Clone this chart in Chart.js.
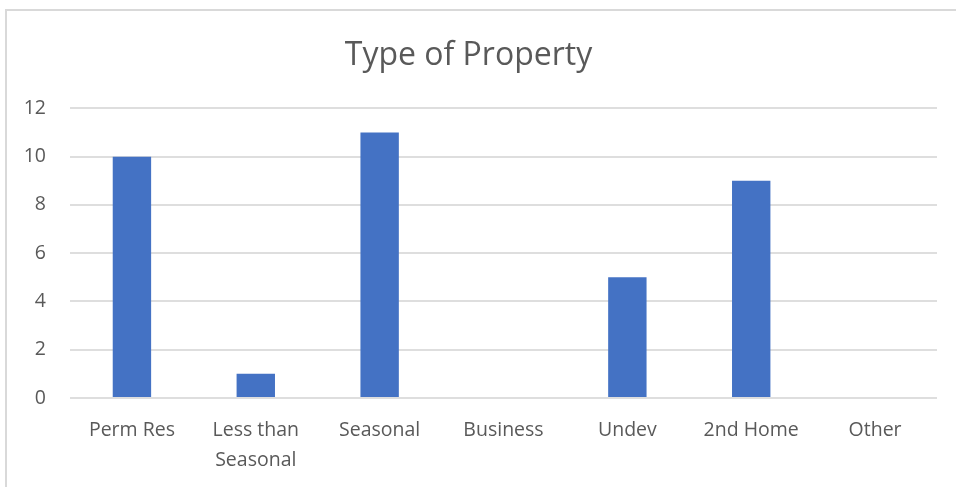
<!DOCTYPE html>
<html><head><meta charset="utf-8">
<script src="https://cdn.jsdelivr.net/npm/chart.js@4"></script>
<style>html,body{margin:0;padding:0;background:#fff;overflow:hidden}#wrap{width:956px;height:487px;position:relative}</style>
</head><body><div id="wrap"><canvas id="c" width="956" height="487"></canvas></div>
<script>
const categories = [["Perm Res"], ["Less than", "Seasonal"], ["Seasonal"], ["Business"], ["Undev"], ["2nd Home"], ["Other"]];
const counts = [10, 1, 11, 0, 5, 9, 0];
const yTicks = [0, 2, 4, 6, 8, 10, 12];
const titleText = "Type of Property";

const frame = {
  id: 'frame',
  beforeDraw(chart) {
    const ctx = chart.ctx;
    ctx.save();
    ctx.strokeStyle = '#d9d9d9';
    ctx.lineWidth = 2;
    ctx.beginPath();
    ctx.moveTo(6, 487);
    ctx.lineTo(6, 10);
    ctx.lineTo(956, 10);
    ctx.stroke();
    ctx.restore();
  }
};

const FONT = "'Open Sans', Lato, sans-serif";
new Chart(document.getElementById('c'), {
  type: 'bar',
  data: {
    labels: categories,
    datasets: [{ data: counts, backgroundColor: '#4472C4', categoryPercentage: 1, barPercentage: 0.31 }]
  },
  plugins: [frame],
  options: {
    responsive: false,
    animation: false,
    layout: { padding: { top: 0, right: 19, bottom: 0, left: 0 } },
    plugins: {
      legend: { display: false },
      tooltip: { enabled: false },
      title: {
        display: true, text: titleText, color: '#595959',
        font: { family: FONT, size: 32, weight: 'normal' },
        padding: { top: 37, bottom: 33 }
      }
    },
    scales: {
      x: {
        grid: { display: false, drawTicks: false },
        border: { display: false },
        ticks: { color: '#595959', font: { family: FONT, size: 19.5, lineHeight: 1.55 }, padding: 17, maxRotation: 0, autoSkip: false },
        afterFit(s) { s.height = 89; }
      },
      y: {
        min: 0, max: 12,
        afterBuildTicks(s) { s.ticks = yTicks.map(v => ({ value: v })); },
        grid: { color: '#dedede', lineWidth: 2, drawTicks: false },
        border: { display: false },
        ticks: { color: '#595959', font: { family: FONT, size: 19.5 }, padding: 24 },
        afterFit(s) { s.width = 70; }
      }
    }
  }
});
</script></body></html>
